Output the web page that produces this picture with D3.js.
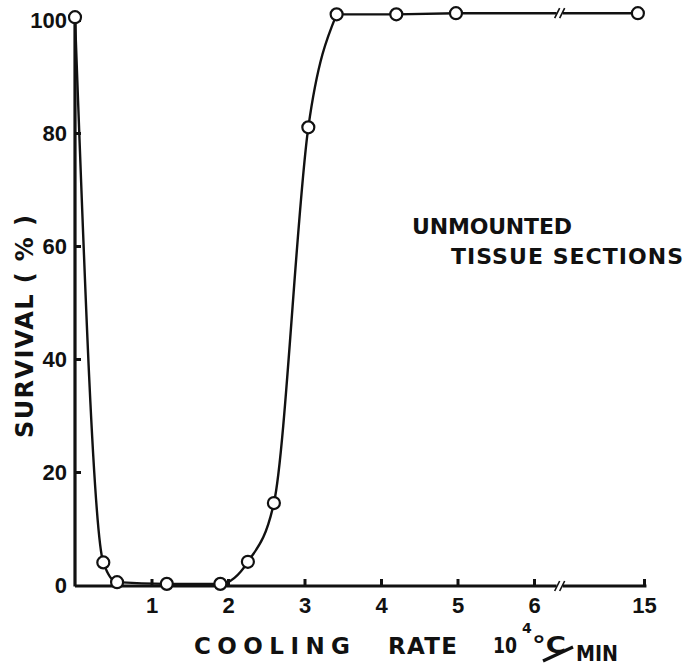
<!doctype html>
<html>
<head>
<script src="https://cdnjs.cloudflare.com/ajax/libs/d3/7.8.5/d3.min.js"></script>
<style>
body { margin: 0; background: #fff; }
text { font-family: "DejaVu Sans", sans-serif; font-weight: bold; fill: #111; }
.tick text { font-family: "Liberation Sans", sans-serif; font-size: 22px; }
.tick line { stroke: #111; stroke-width: 3px; }
.curve { fill: none; stroke: #111; stroke-width: 2.4px; }
.axisline { fill: none; stroke: #111; stroke-width: 3.2px; }
.dot { fill: #fff; stroke: #111; stroke-width: 2.2px; }
</style>
</head>
<body>
<svg width="692" height="667"></svg>
<script>
// cooling rate (10^4 C/min) and survival (%)
var rate = [0, 0.37, 0.55, 1.2, 1.9, 2.26, 2.6, 3.05, 3.42, 4.2, 4.98, 14.5];
var survival = [100.5, 4, 0.5, 0.2, 0.2, 4.1, 14.5, 81, 101, 101, 101.2, 101.2];
var xTicks = [1, 2, 3, 4, 5, 6, 15];
var yTicks = [0, 20, 40, 60, 80, 100];
var breakAt = 8.1; // axis break between 6 and 15
var riseEnd = 8;   // index where the rising curve meets the plateau

var svg = d3.select("svg");
var x = d3.scaleLinear().domain([0, 6, 15]).range([75, 534, 644]);
var y = d3.scaleLinear().domain([0, 100]).range([585, 20]);

var pts = rate.map(function (r, i) { return {x: r, y: survival[i]}; });

// y axis
var yAxis = svg.append("g")
  .attr("transform", "translate(" + x(0) + ",0)")
  .call(d3.axisLeft(y).tickValues(yTicks).tickSize(-6).tickSizeOuter(0).tickPadding(8));
yAxis.select(".domain").remove();
yAxis.selectAll(".tick").filter(function (d) { return d === 0; }).select("line").remove();
svg.append("line").attr("class", "axisline")
  .attr("x1", x(0)).attr("x2", x(0)).attr("y1", y(0) + 1.5).attr("y2", y(100));

// x axis
var xAxis = svg.append("g")
  .attr("transform", "translate(0," + (y(0) + 1) + ")")
  .call(d3.axisBottom(x).tickValues(xTicks).tickSize(-7).tickSizeOuter(0).tickPadding(11));
xAxis.select(".domain").remove();

var seg = d3.line().x(function (d) { return x(d[0]); }).y(function (d) { return d[1]; });
var gap = 0.25;
svg.append("path").attr("class", "axisline")
  .attr("d", seg([[0, y(0) + 1], [breakAt - gap, y(0) + 1]]));
svg.append("path").attr("class", "axisline")
  .attr("d", seg([[breakAt + gap, y(0) + 1], [15.2, y(0) + 1]]));

// break marks "//"
function breakMark(cy) {
  [-2.5, 2.5].forEach(function (o) {
    svg.append("line")
      .attr("x1", x(breakAt) + o - 2.5).attr("y1", cy + 5)
      .attr("x2", x(breakAt) + o + 2.5).attr("y2", cy - 5)
      .attr("stroke", "#111").attr("stroke-width", 1.6);
  });
}
breakMark(y(0) + 1);

// data curve: smooth rise, then straight plateau with a break
var smooth = d3.line().curve(d3.curveMonotoneX)
  .x(function (d) { return x(d.x); }).y(function (d) { return y(d.y); });
var straight = d3.line()
  .x(function (d) { return x(d.x); }).y(function (d) { return y(d.y); });

svg.append("path").attr("class", "curve").attr("d", smooth(pts.slice(0, riseEnd + 1)));
var last = pts.length - 1;
var preBreak = pts.slice(riseEnd, last).concat([{x: breakAt - gap, y: pts[last - 1].y}]);
svg.append("path").attr("class", "curve").attr("d", straight(preBreak));
svg.append("path").attr("class", "curve")
  .attr("d", straight([{x: breakAt + gap, y: pts[last].y}, pts[last]]));
breakMark(y(pts[last].y));

svg.selectAll("circle.dot").data(pts).enter().append("circle")
  .attr("class", "dot").attr("r", 6)
  .attr("cx", function (d) { return x(d.x); })
  .attr("cy", function (d) { return y(d.y); });

// axis titles
svg.append("text")
  .attr("transform", "translate(33,438) rotate(-90)")
  .attr("font-size", 24).attr("textLength", 223).attr("lengthAdjust", "spacing")
  .text("SURVIVAL ( % )");

var xt = svg.append("g").attr("font-size", 23);
xt.append("text").attr("x", 194).attr("y", 654).attr("textLength", 156).attr("lengthAdjust", "spacing").text("COOLING");
xt.append("text").attr("x", 388).attr("y", 654).attr("textLength", 69).attr("lengthAdjust", "spacing").text("RATE");
xt.append("text").attr("x", 493).attr("y", 653).attr("font-size", 21).attr("textLength", 24).attr("lengthAdjust", "spacingAndGlyphs").text("10");
xt.append("text").attr("x", 522).attr("y", 633).attr("font-size", 14).text("4");
xt.append("text").attr("x", 532).attr("y", 653).attr("textLength", 34).attr("lengthAdjust", "spacingAndGlyphs").text("°C");
xt.append("line").attr("x1", 543).attr("y1", 661).attr("x2", 573).attr("y2", 647)
  .attr("stroke", "#111").attr("stroke-width", 3.2);
xt.append("text").attr("x", 576).attr("y", 661).attr("font-size", 21).attr("textLength", 42).attr("lengthAdjust", "spacingAndGlyphs").text("MIN");

// annotation
var note = svg.append("g").attr("font-size", 22);
note.append("text").attr("x", 412).attr("y", 234).attr("textLength", 160).attr("lengthAdjust", "spacing").text("UNMOUNTED");
note.append("text").attr("x", 451).attr("y", 264).attr("textLength", 232).attr("lengthAdjust", "spacing").text("TISSUE SECTIONS");
</script>
</body>
</html>
